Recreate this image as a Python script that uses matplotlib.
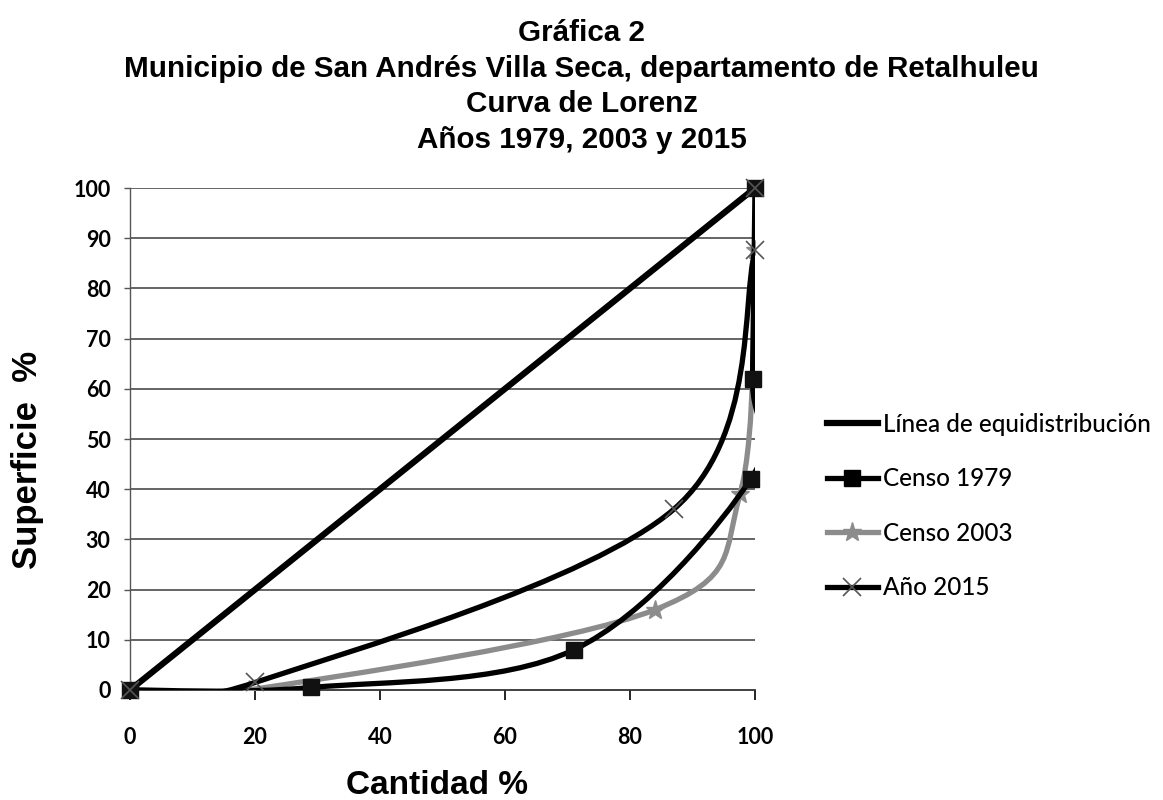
import matplotlib
matplotlib.use('Agg')
import matplotlib.pyplot as plt
from matplotlib import font_manager
from matplotlib.path import Path
from matplotlib.patches import PathPatch
from matplotlib.lines import Line2D
import numpy as np

# Datos
equi_x = [0, 100]
equi_y = [0, 100]

censo1979_x = [0, 29, 71, 99.3, 99.6, 100]
censo1979_y = [0, 0.5, 8, 42, 62, 100]

censo2003_x = [0, 19, 84, 97.6, 100, 100]
censo2003_y = [0, 0, 16, 39, 87.6, 100]

anio2015_x = [0, 20, 87, 100, 100]
anio2015_y = [0, 1.5, 36, 87.6, 100]

x_ticks = [0, 20, 40, 60, 80, 100]
y_ticks = [0, 10, 20, 30, 40, 50, 60, 70, 80, 90, 100]

titulo = ['Gráfica 2',
          'Municipio de San Andrés Villa Seca, departamento de Retalhuleu',
          'Curva de Lorenz',
          'Años 1979, 2003 y 2015']

names = {f.name for f in font_manager.fontManager.ttflist}
legend_font = 'Lato' if 'Lato' in names else 'DejaVu Sans'
tick_font = 'Lato' if 'Lato' in names else 'Liberation Sans'


def smooth_path(xs, ys):
    # curva suavizada tipo Excel (bezier con tangentes de Catmull-Rom)
    pts = np.column_stack([xs, ys]).astype(float)
    n = len(pts)
    verts = [pts[0]]
    codes = [Path.MOVETO]
    for i in range(n - 1):
        p0 = pts[i - 1] if i > 0 else pts[i]
        p1 = pts[i]
        p2 = pts[i + 1]
        p3 = pts[i + 2] if i + 2 < n else pts[i + 1]
        c1 = p1 + (p2 - p0) / 6.0
        c2 = p2 - (p3 - p1) / 6.0
        verts += [c1, c2, p2]
        codes += [Path.CURVE4] * 3
    return Path(verts, codes)


fig = plt.figure(figsize=(11.63, 8), dpi=100)
ax = fig.add_axes([130 / 1163, 1 - 690 / 800, 625 / 1163, 502 / 800])

ax.set_xlim(0, 100)
ax.set_ylim(0, 100)

# cuadricula horizontal
for v in y_ticks[1:]:
    ax.axhline(v, color='#3a3a3a', lw=1.1, zorder=1)

ax.plot(equi_x, equi_y, color='black', lw=4.5, solid_capstyle='butt', zorder=3)

ax.add_patch(PathPatch(smooth_path(censo2003_x, censo2003_y), fill=False,
                       edgecolor='#8c8c8c', lw=3.8, zorder=3))
ax.plot(censo2003_x, censo2003_y, ls='none', marker='*', ms=14,
        color='#8c8c8c', zorder=4)

ax.add_patch(PathPatch(smooth_path(censo1979_x, censo1979_y), fill=False,
                       edgecolor='black', lw=3.8, zorder=4))
ax.plot(censo1979_x, censo1979_y, ls='none', marker='s', ms=11,
        color='#111111', zorder=5, clip_on=False)

ax.add_patch(PathPatch(smooth_path(anio2015_x, anio2015_y), fill=False,
                       edgecolor='black', lw=3.8, zorder=4))
ax.plot(anio2015_x, anio2015_y, ls='none', marker='x', ms=13, mew=1.2,
        color='#555555', zorder=5, clip_on=False)

for s in ['top', 'right']:
    ax.spines[s].set_visible(False)
ax.spines['left'].set_color('#555555')
ax.spines['left'].set_linewidth(1.0)
ax.spines['bottom'].set_color('#333333')
ax.spines['bottom'].set_linewidth(1.3)

ax.set_xticks(x_ticks)
ax.set_yticks(y_ticks)
ax.tick_params(axis='x', direction='out', length=7, width=1.2, pad=20,
               labelsize=15.5)
ax.tick_params(axis='y', direction='out', length=4, width=1.0, pad=10,
               labelsize=15.5, color='#555555')
for lab in ax.get_xticklabels() + ax.get_yticklabels():
    lab.set_fontweight('bold')
    lab.set_family(tick_font)

# titulos
baselines = [41, 77, 112, 148]
for txt, b in zip(titulo, baselines):
    fig.text(0.5, 1 - b / 800, txt, ha='center', va='baseline',
             fontsize=21.3, fontweight='bold', family='Liberation Sans')

fig.text(437 / 1163, 1 - 785 / 800, 'Cantidad %', ha='center', va='center',
         fontsize=24, fontweight='bold', family='Liberation Sans')
fig.text(28 / 1163, 1 - 460 / 800, 'Superficie  %', ha='center', va='center',
         rotation=90, fontsize=25, fontweight='bold', family='Liberation Sans')

handles = [
    Line2D([], [], color='black', lw=4.5),
    Line2D([], [], color='black', lw=3.8, marker='s', ms=11),
    Line2D([], [], color='#8c8c8c', lw=3.8, marker='*', ms=14),
    Line2D([], [], color='black', lw=3.8, marker='x', ms=13, mew=1.2,
           markeredgecolor='#555555'),
]
labels = ['Línea de equidistribución', 'Censo 1979', 'Censo 2003', 'Año 2015']
fig.legend(handles, labels, loc='center left',
           bbox_to_anchor=(805 / 1163, 1 - 506 / 800), frameon=False,
           prop={'family': legend_font, 'size': 17.5, 'weight': 'medium'},
           handlelength=2.1, handletextpad=0.2, labelspacing=1.3)

fig.savefig('out.png', dpi=100)
